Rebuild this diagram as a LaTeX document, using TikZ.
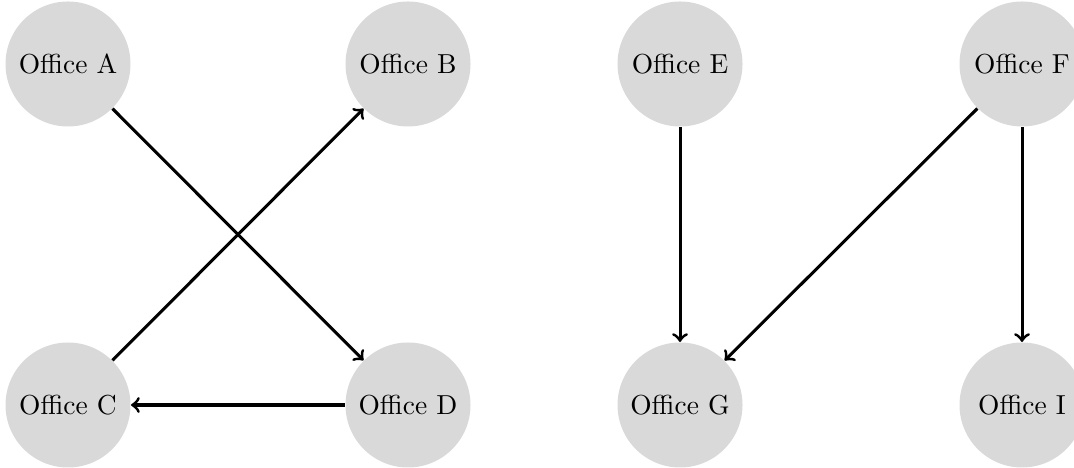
\documentclass[tikz,border=0pt]{standalone}
\begin{document}
\begin{tikzpicture}[x=0.364pt,y=-0.364pt,
  office/.style={circle,fill=gray!30,minimum size=125*0.364pt,inner sep=0pt},
  link/.style={->,line width=1.1pt}]
\useasboundingbox (0,0) rectangle (1074,468);
\node[office] (A) at (68,64) {Office A};
\node[office] (B) at (408,64) {Office B};
\node[office] (C) at (68,405) {Office C};
\node[office] (D) at (408,405) {Office D};
\node[office] (E) at (680,64) {Office E};
\node[office] (F) at (1022,64) {Office F};
\node[office] (G) at (680,405) {Office G};
\node[office] (I) at (1022,405) {Office I};
\draw[link] (A) -- (D);
\draw[link] (C) -- (B);
\draw[link] (D) -- (C);
\draw[link] (E) -- (G);
\draw[link] (F) -- (G);
\draw[link] (F) -- (I);
\end{tikzpicture}
\end{document}
